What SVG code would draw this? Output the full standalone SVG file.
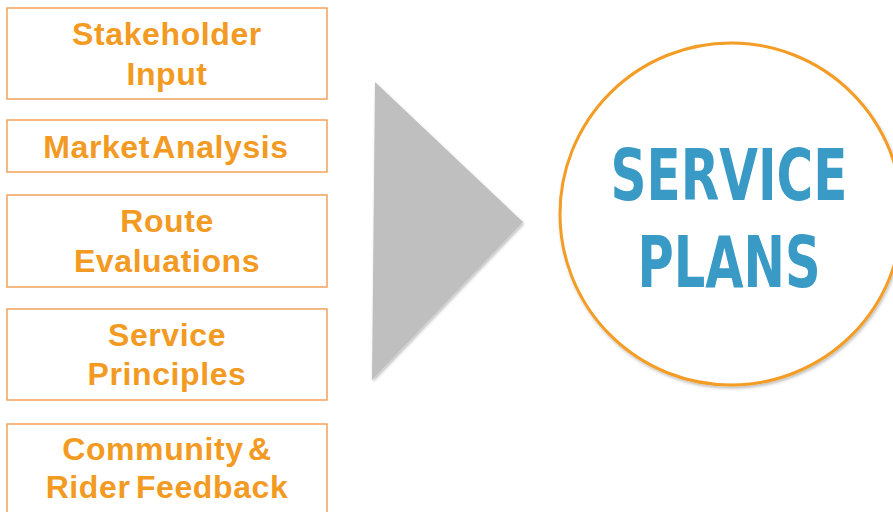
<svg xmlns="http://www.w3.org/2000/svg" width="893" height="512" viewBox="0 0 893 512">
<defs>
<style>
.box{fill:#fff;stroke:#F5A25A;stroke-width:1.5}
.lbl{font-family:"Liberation Sans",Arial,sans-serif;font-weight:bold;font-size:32px;letter-spacing:0.6px;fill:#F29A22;text-anchor:middle}
.big{font-family:"DejaVu Sans Condensed","DejaVu Sans",sans-serif;font-weight:bold;font-size:71px;fill:#3A9AC6;text-anchor:middle}
</style>
<filter id="sh" x="-20%" y="-20%" width="140%" height="140%">
<feGaussianBlur in="SourceAlpha" stdDeviation="1.5"/>
<feOffset dx="1" dy="2" result="b"/>
<feFlood flood-color="#000" flood-opacity="0.25"/>
<feComposite in2="b" operator="in"/>
<feMerge><feMergeNode/><feMergeNode in="SourceGraphic"/></feMerge>
</filter>
</defs>
<rect width="893" height="512" fill="#fff"/>
<g id="stakeholder-input">
<rect class="box" x="7" y="8" width="320" height="91"/>
<text class="lbl" x="167" y="45">Stakeholder</text>
<text class="lbl" x="167" y="85">Input</text>
</g>
<g id="market-analysis">
<rect class="box" x="7" y="120" width="320" height="52"/>
<text class="lbl" x="166" y="158" word-spacing="-6">Market Analysis</text>
</g>
<g id="route-evaluations">
<rect class="box" x="7" y="195" width="320" height="92"/>
<text class="lbl" x="167" y="232">Route</text>
<text class="lbl" x="167" y="272">Evaluations</text>
</g>
<g id="service-principles">
<rect class="box" x="7" y="309" width="320" height="91"/>
<text class="lbl" x="167" y="346">Service</text>
<text class="lbl" x="167" y="385">Principles</text>
</g>
<g id="community-feedback">
<rect class="box" x="7" y="424" width="320" height="100"/>
<text class="lbl" x="167" y="460" word-spacing="-5">Community &amp;</text>
<text class="lbl" x="167" y="498" word-spacing="-4">Rider Feedback</text>
</g>
<g id="connectors">
<polygon points="375,82 523,222 372,380" fill="#BFBFBF" filter="url(#sh)"/>
</g>
<g id="service-plans">
<circle cx="731" cy="214" r="171" fill="#fff" stroke="#F39C25" stroke-width="3" filter="url(#sh)"/>
<text class="big" x="729" y="200" textLength="237" lengthAdjust="spacingAndGlyphs">SERVICE</text>
<text class="big" x="729" y="287" textLength="183" lengthAdjust="spacingAndGlyphs">PLANS</text>
</g>
</svg>
